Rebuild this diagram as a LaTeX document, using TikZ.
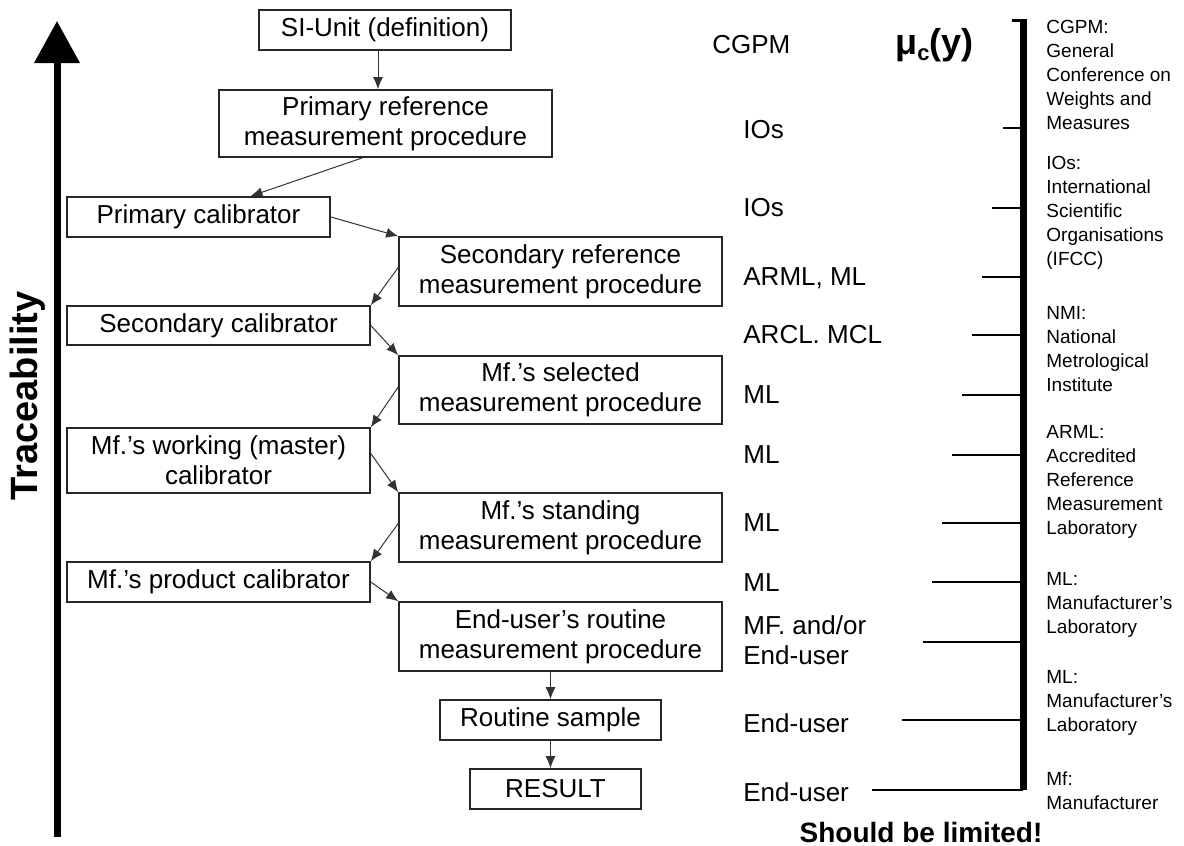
\documentclass[tikz,border=0pt]{standalone}
\usepackage{fontspec}
\setmainfont{Liberation Sans}
\usetikzlibrary{arrows.meta,calc}
\begin{document}
\begin{tikzpicture}[x=0.5pt,y=-0.5pt,
  box/.style={draw=black!85, line width=0.8pt, inner sep=0pt, align=center, font=\fontsize{13}{15}\selectfont},
  lab/.style={anchor=west, inner sep=0pt, font=\fontsize{13}{15}\selectfont},
  note/.style={anchor=north west, inner sep=0pt, align=left, font=\fontsize{9.5}{12}\selectfont},
  arr/.style={draw=black!80, line width=0.5pt, -{Latex[length=6pt,width=5pt]}},
  tick/.style={line width=0.75pt}]
\fill[white] (0,0) rectangle (1184,846);
\useasboundingbox (0,0) rectangle (1184,846);

% main traceability arrow
\coordinate (mainbot) at (57,837);
\coordinate (maintip) at (57,21);
\draw[line width=3.5pt, -{Triangle[length=21pt,width=22pt]}] (mainbot) -- (maintip);
\node[rotate=90, inner sep=0pt, font=\bfseries\fontsize{19}{23}\selectfont] (trace) at (28,396) {Traceability};

% boxes
\node[box, minimum width=126pt,   minimum height=20pt]   (si)  at (385,30)    {SI-Unit (definition)};
\node[box, minimum width=166.5pt, minimum height=33.5pt] (pr)  at (385.5,123.5) {Primary reference\\measurement procedure};
\node[box, minimum width=131.5pt, minimum height=20pt]   (pc)  at (198.5,217) {Primary calibrator};
\node[box, minimum width=161.5pt, minimum height=34.5pt] (sr)  at (560.5,271.5) {Secondary reference\\measurement procedure};
\node[box, minimum width=151.5pt, minimum height=19.5pt] (sc)  at (218.5,325.5) {Secondary calibrator};
\node[box, minimum width=161.5pt, minimum height=34pt]   (ms)  at (560.5,390) {Mf.'s selected\\measurement procedure};
\node[box, minimum width=151.5pt, minimum height=32.5pt] (mw)  at (218.5,460.5) {Mf.'s working (master)\\calibrator};
\node[box, minimum width=161.5pt, minimum height=34.5pt] (mst) at (560.5,527.5) {Mf.'s standing\\measurement procedure};
\node[box, minimum width=151.5pt, minimum height=20pt]   (mp)  at (218.5,582) {Mf.'s product calibrator};
\node[box, minimum width=161.5pt, minimum height=34.5pt] (er)  at (560.5,636.5) {End-user's routine\\measurement procedure};
\node[box, minimum width=110.5pt, minimum height=20pt]   (rs)  at (550.5,720) {Routine sample};
\node[box, minimum width=85.5pt,  minimum height=20pt]   (res) at (555.5,789) {RESULT};

% connectors
\draw[arr] ($(si.south)+(-7,0)$) -- ($(pr.north)+(-7.5,0)$);
\draw[arr] ($(pr.south)+(-23,0)$) -- ($(pc.north)+(52,0)$);
\draw[arr] (pc.east) -- (sr.north west);
\draw[arr] ($(sr.west)+(0,-4)$) -- (sc.north east);
\draw[arr] (sc.east) -- (ms.north west);
\draw[arr] ($(ms.west)+(0,-3)$) -- (mw.north east);
\draw[arr] ($(mw.east)+(0,-7)$) -- (mst.north west);
\draw[arr] ($(mst.west)+(0,-4)$) -- (mp.north east);
\draw[arr] (mp.east) -- (er.north west);
\draw[arr] (er.south -| rs.north) -- (rs.north);
\draw[arr] (rs.south) -- (res.north -| rs.south);

% labels
\node[lab] (l0)  at (712,45)  {CGPM};
\node[lab] (l1)  at (743,130) {IOs};
\node[lab] (l2)  at (743,208) {IOs};
\node[lab] (l3)  at (743,278) {ARML, ML};
\node[lab] (l4)  at (743,335) {ARCL. MCL};
\node[lab] (l5)  at (743,395) {ML};
\node[lab] (l6)  at (743,455) {ML};
\node[lab] (l7)  at (743,523) {ML};
\node[lab] (l8)  at (743,583) {ML};
\node[lab] (l9)  at (743,625) {MF. and/or};
\node[lab] (l10) at (743,655) {End-user};
\node[lab] (l11) at (743,723) {End-user};
\node[lab] (l12) at (743,792) {End-user};

% mu_c(y)
\node[anchor=west, inner sep=0pt, font=\bfseries\fontsize{18}{20}\selectfont] (mu) at (895,45)
  {μ\raisebox{-0.3ex}{\fontsize{11}{11}\selectfont c}(y)};

% bar with ticks
\coordinate (bartop) at (1023,19);
\coordinate (barbot) at (1023,790);
\draw[line width=3.5pt] (bartop) -- (barbot);
\draw[line width=1.5pt] (1012,20.5) -- (1026,20.5);
\foreach \y/\x in {128/1003,208/992,277/982,335/972,395/962,455/952,523/942,582/932,642/923,720/902,790/872}
  \draw[tick] (\x,\y) -- ({\x,\y} -| barbot);

% notes
\node[note] (n1) at (1046,20)  {CGPM:\\General\\Conference on\\Weights and\\Measures};
\node[note] (n2) at (1046,156) {IOs:\\International\\Scientific\\Organisations\\(IFCC)};
\node[note] (n3) at (1046,306) {NMI:\\National\\Metrological\\Institute};
\node[note] (n4) at (1046,425) {ARML:\\Accredited\\Reference\\Measurement\\Laboratory};
\node[note] (n5) at (1046,572) {ML:\\Manufacturer's\\Laboratory};
\node[note] (n6) at (1046,670) {ML:\\Manufacturer's\\Laboratory};
\node[note] (n7) at (1046,771) {Mf:\\Manufacturer};

\node[inner sep=0pt, font=\bfseries\fontsize{14}{16}\selectfont] (limit) at (921,832) {Should be limited!};
\end{tikzpicture}
\end{document}
